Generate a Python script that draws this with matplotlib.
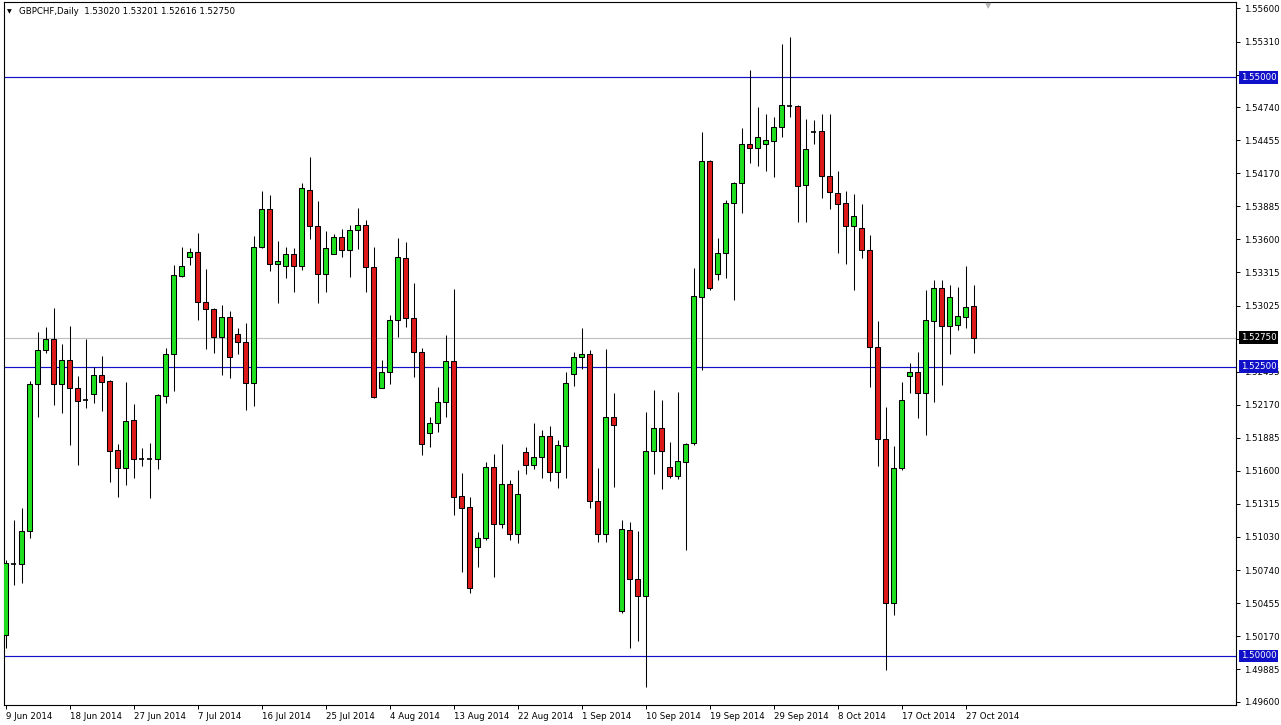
import matplotlib
matplotlib.use('Agg')
import matplotlib.pyplot as plt
from matplotlib.patches import Rectangle
from matplotlib.transforms import blended_transform_factory

symbol = 'GBPCHF,Daily'

opens = [
    1.50179, 1.50793, 1.50793, 1.51079, 1.52350, 1.52644, 1.52739, 1.52350, 1.52557, 1.52315,
    1.52211, 1.52263, 1.52427, 1.52375, 1.51779, 1.51623, 1.52038, 1.51701, 1.51701, 1.51701,
    1.52246, 1.52609, 1.53284, 1.53447, 1.53491, 1.53059, 1.52999, 1.52757, 1.52930, 1.52782,
    1.52713, 1.52359, 1.53534, 1.53863, 1.53387, 1.53370, 1.53473, 1.53370, 1.54027, 1.53715,
    1.53301, 1.53473, 1.53620, 1.53508, 1.53681, 1.53724, 1.53361, 1.52315, 1.52453, 1.52904,
    1.53439, 1.52921, 1.52627, 1.51926, 1.52012, 1.52194, 1.52549, 1.51381, 1.51287, 1.50940,
    1.51019, 1.51632, 1.51139, 1.51486, 1.51053, 1.51762, 1.51649, 1.51718, 1.51900, 1.51590,
    1.51813, 1.52436, 1.52583, 1.52609, 1.51339, 1.51053, 1.52064, 1.50387, 1.51087, 1.50664,
    1.50517, 1.51770, 1.51969, 1.51632, 1.51555, 1.51675, 1.51839, 1.53102, 1.54277, 1.53301,
    1.53482, 1.53915, 1.54087, 1.54424, 1.54390, 1.54424, 1.54450, 1.54571, 1.54753, 1.54753,
    1.54070, 1.54528, 1.54537, 1.54148, 1.54001, 1.53915, 1.53715, 1.53698, 1.53508, 1.52669,
    1.51874, 1.50456, 1.51623, 1.52419, 1.52453, 1.52272, 1.52895, 1.53180, 1.52852, 1.52860,
    1.52930, 1.53020]

highs = [
    1.50828, 1.51175, 1.51278, 1.52375, 1.52799, 1.52843, 1.53006, 1.52695, 1.52852, 1.52419,
    1.52739, 1.52496, 1.52591, 1.52384, 1.51831, 1.52367, 1.52177, 1.51796, 1.51839, 1.52263,
    1.52661, 1.53378, 1.53534, 1.53525, 1.53655, 1.53344, 1.53006, 1.53033, 1.52981, 1.52834,
    1.52878, 1.53629, 1.54019, 1.53984, 1.53586, 1.53534, 1.53525, 1.54087, 1.54312, 1.53932,
    1.53672, 1.53646, 1.53689, 1.53724, 1.53872, 1.53767, 1.53534, 1.52557, 1.52947, 1.53611,
    1.53577, 1.53223, 1.52661, 1.52064, 1.52324, 1.52774, 1.53171, 1.51581, 1.51373, 1.51071,
    1.51675, 1.51744, 1.51831, 1.51520, 1.51606, 1.51805, 1.52012, 1.51952, 1.51986, 1.51865,
    1.52453, 1.52627, 1.52834, 1.52644, 1.51623, 1.52653, 1.52272, 1.51175, 1.51157, 1.51079,
    1.52107, 1.52298, 1.52211, 1.51848, 1.52281, 1.51839, 1.53353, 1.54528, 1.54286, 1.53611,
    1.53940, 1.54096, 1.54562, 1.55064, 1.54744, 1.54683, 1.54658, 1.55289, 1.55349, 1.54761,
    1.54640, 1.54632, 1.54683, 1.54683, 1.54191, 1.54019, 1.53993, 1.53906, 1.53637, 1.52895,
    1.52151, 1.51813, 1.52367, 1.52531, 1.52627, 1.53163, 1.53249, 1.53249, 1.53206, 1.53189,
    1.53370, 1.53201]

lows = [
    1.50067, 1.50612, 1.50629, 1.51019, 1.52064, 1.52617, 1.52168, 1.52099, 1.51822, 1.51649,
    1.52142, 1.52186, 1.52116, 1.51503, 1.51373, 1.51477, 1.51538, 1.51641, 1.51365, 1.51615,
    1.52186, 1.52290, 1.53275, 1.53378, 1.52904, 1.52653, 1.52617, 1.52427, 1.52401, 1.52609,
    1.52125, 1.52159, 1.53525, 1.53327, 1.53051, 1.53266, 1.53146, 1.53335, 1.53603, 1.53051,
    1.53146, 1.53473, 1.53447, 1.53275, 1.53516, 1.53146, 1.52229, 1.52315, 1.52350, 1.52757,
    1.52843, 1.52410, 1.51736, 1.51805, 1.51934, 1.52064, 1.51218, 1.50724, 1.50543, 1.50767,
    1.51002, 1.50681, 1.51104, 1.51002, 1.50976, 1.51572, 1.51615, 1.51538, 1.51512, 1.51450,
    1.51538, 1.52333, 1.52479, 1.51278, 1.50984, 1.50984, 1.51460, 1.50370, 1.50067, 1.50128,
    1.49730, 1.51572, 1.51442, 1.51538, 1.51529, 1.50914, 1.51822, 1.52470, 1.53163, 1.53249,
    1.53266, 1.53076, 1.53828, 1.54260, 1.54234, 1.54191, 1.54140, 1.54485, 1.54658, 1.53750,
    1.53750, 1.54424, 1.53958, 1.53863, 1.53482, 1.53387, 1.53163, 1.53439, 1.52324, 1.51641,
    1.49877, 1.50352, 1.51606, 1.52272, 1.52056, 1.51908, 1.52194, 1.52342, 1.52609, 1.52817,
    1.52834, 1.52616]

closes = [
    1.50802, 1.50793, 1.51079, 1.52350, 1.52644, 1.52739, 1.52350, 1.52557, 1.52315, 1.52203,
    1.52211, 1.52427, 1.52367, 1.51770, 1.51623, 1.52030, 1.51701, 1.51701, 1.51701, 1.52255,
    1.52609, 1.53292, 1.53370, 1.53491, 1.53059, 1.52999, 1.52757, 1.52930, 1.52583, 1.52713,
    1.52359, 1.53534, 1.53863, 1.53387, 1.53413, 1.53473, 1.53370, 1.54044, 1.53715, 1.53301,
    1.53525, 1.53620, 1.53508, 1.53681, 1.53724, 1.53361, 1.52238, 1.52453, 1.52904, 1.53447,
    1.52921, 1.52627, 1.51831, 1.52012, 1.52194, 1.52549, 1.51373, 1.51278, 1.50586, 1.51019,
    1.51632, 1.51139, 1.51486, 1.51053, 1.51399, 1.51649, 1.51718, 1.51900, 1.51590, 1.51822,
    1.52359, 1.52583, 1.52609, 1.51339, 1.51053, 1.52064, 1.51995, 1.51097, 1.50664, 1.50517,
    1.51770, 1.51969, 1.51770, 1.51555, 1.51684, 1.51831, 1.53111, 1.54277, 1.53180, 1.53482,
    1.53915, 1.54087, 1.54424, 1.54390, 1.54485, 1.54459, 1.54571, 1.54761, 1.54753, 1.54061,
    1.54381, 1.54528, 1.54148, 1.54009, 1.53906, 1.53715, 1.53803, 1.53508, 1.52669, 1.51874,
    1.50456, 1.51623, 1.52211, 1.52453, 1.52272, 1.52904, 1.53180, 1.52852, 1.53102, 1.52938,
    1.53015, 1.52750]

date_labels = ['9 Jun 2014', '18 Jun 2014', '27 Jun 2014', '7 Jul 2014', '16 Jul 2014',
               '25 Jul 2014', '4 Aug 2014', '13 Aug 2014', '22 Aug 2014', '1 Sep 2014',
               '10 Sep 2014', '19 Sep 2014', '29 Sep 2014', '8 Oct 2014', '17 Oct 2014',
               '27 Oct 2014']
date_label_step = 8

price_ticks = [1.55600, 1.55310, 1.55025, 1.54740, 1.54455, 1.54170, 1.53885, 1.53600,
               1.53315, 1.53025, 1.52740, 1.52455, 1.52170, 1.51885, 1.51600, 1.51315,
               1.51030, 1.50740, 1.50455, 1.50170, 1.49885, 1.49600]
# tick labels fully hidden behind the level / price boxes in the reference
hidden_ticks = [1.55025, 1.52740]

level_lines = [1.55000, 1.52500, 1.50000]

UP = '#1fe01f'
DOWN = '#dc1a1a'
LEVEL = '#1010c8'
FS = 6.2

W, H = 1281, 725
fig = plt.figure(figsize=(W / 100, H / 100), dpi=100)
fig.patch.set_facecolor('white')
ax = fig.add_axes([4 / W, 20 / H, 1232 / W, 703 / H])
ax.set_facecolor('white')

n = len(opens)
bw = 0.56
for i in range(n):
    o, h, l, c = opens[i], highs[i], lows[i], closes[i]
    ax.vlines(i, l, h, color='black', lw=0.75, zorder=2)
    if abs(c - o) < 1e-6:
        ax.hlines(o, i - bw / 2, i + bw / 2, color='black', lw=1.2, zorder=3)
    else:
        col = UP if c > o else DOWN
        ax.add_patch(Rectangle((i - bw / 2, min(o, c)), bw, abs(c - o),
                               facecolor=col, edgecolor='black', lw=0.75, zorder=3))

for lv in level_lines:
    ax.axhline(lv, color=LEVEL, lw=0.85, zorder=1)
last = closes[-1]
ax.axhline(last, color='#c0c0c0', lw=0.85, zorder=1)

ax.set_xlim(-0.1875, -0.1875 + 1232 / 8)
ax.set_ylim(1.49574, 1.55652)

ax.yaxis.tick_right()
ax.set_yticks(price_ticks)
ax.set_yticklabels(['' if t in hidden_ticks else '%.5f' % t for t in price_ticks])
ax.tick_params(axis='y', length=3, width=0.7, labelsize=FS, pad=3, colors='black')

xt = list(range(0, date_label_step * len(date_labels), date_label_step))
ax.set_xticks(xt)
ax.set_xticklabels(date_labels, ha='left')
ax.tick_params(axis='x', length=3, width=0.7, labelsize=FS, pad=2)
for lab in ax.get_xticklabels():
    lab.set_horizontalalignment('left')

for sp in ax.spines.values():
    sp.set_color('black')
    sp.set_linewidth(0.8)

trans = blended_transform_factory(ax.transAxes, ax.transData)
for lv in level_lines:
    ax.annotate('%.5f' % lv, xy=(1.0, lv), xycoords=trans, xytext=(5, 0),
                textcoords='offset pixels', ha='left', va='center', fontsize=FS,
                color='white', annotation_clip=False, zorder=10,
                bbox=dict(boxstyle='square,pad=0.2', fc=LEVEL, ec='none'))
ax.annotate('%.5f' % last, xy=(1.0, last), xycoords=trans, xytext=(5, 0),
            textcoords='offset pixels', ha='left', va='center', fontsize=FS,
            color='white', annotation_clip=False, zorder=10,
            bbox=dict(boxstyle='square,pad=0.2', fc='black', ec='none'))

header = '%s  %.5f %.5f %.5f %.5f' % (symbol, opens[-1], highs[-1], lows[-1], closes[-1])
fig.text(7 / W, 1 - 12 / H, '\u25BC', fontsize=4.5, va='center', ha='left', color='black')
fig.text(19 / W, 1 - 12 / H, header, fontsize=FS, va='center', ha='left', color='black')
fig.text(988 / W, 1 - 6 / H, '\u25BC', fontsize=6, va='center', ha='center', color='#b4b4b4')

fig.savefig('out.png', dpi=100, facecolor='white')
